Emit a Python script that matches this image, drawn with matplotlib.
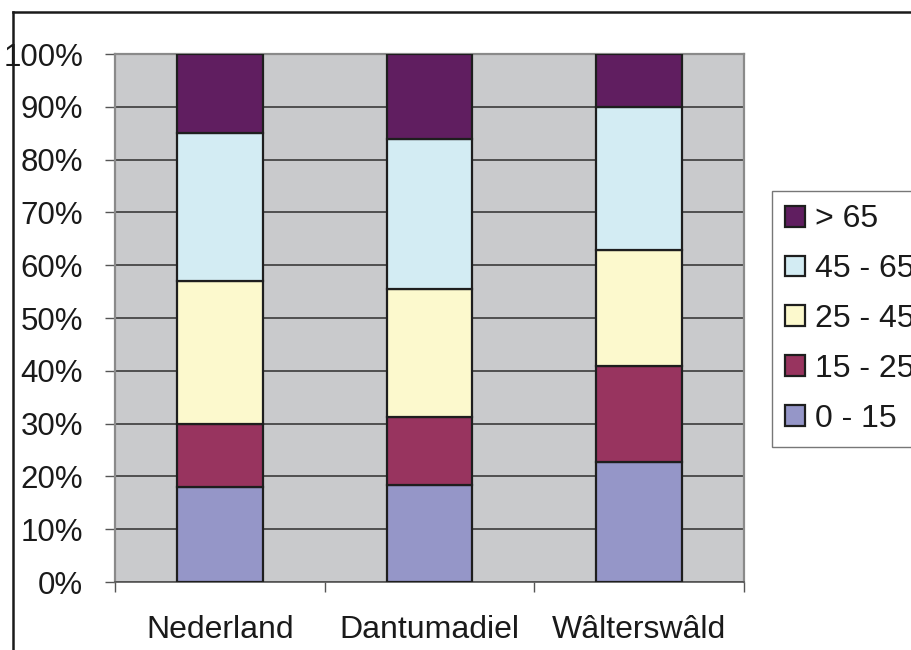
import matplotlib
matplotlib.use("Agg")
import matplotlib.pyplot as plt
from matplotlib.lines import Line2D
import numpy as np

plt.rcParams['font.family'] = ['Liberation Sans', 'DejaVu Sans']

# Age distribution (share of population, %) per area
regions = ["Nederland", "Dantumadiel", "Wâlterswâld"]
age_groups = ["0 - 15", "15 - 25", "25 - 45", "45 - 65", "> 65"]
age_0_15 = [18.0, 18.4, 22.8]
age_15_25 = [12.0, 12.8, 18.1]
age_25_45 = [27.0, 24.3, 21.9]
age_45_65 = [28.0, 28.4, 27.1]
age_65_plus = [15.0, 16.1, 10.1]
series = [age_0_15, age_15_25, age_25_45, age_45_65, age_65_plus]
colors = ["#9596C8", "#98345F", "#FCF9CD", "#D3ECF3", "#601E60"]
y_ticks = [0, 10, 20, 30, 40, 50, 60, 70, 80, 90, 100]
y_labels = [f"{t}%" for t in y_ticks]

W, H = 911, 650
fig = plt.figure(figsize=(W / 100, H / 100), dpi=100)
ax = fig.add_axes([115 / W, 1 - 582 / H, (744 - 115) / W, (582 - 54) / H])
ax.set_facecolor("#C9CACC")

x = np.arange(len(regions))
bottom = np.zeros(len(regions))
handles = []
for vals, col, name in zip(series, colors, age_groups):
    v = np.array(vals)
    h = ax.bar(x, v, bottom=bottom, width=0.41, color=col, edgecolor="#1E1E1E",
               linewidth=1.6, label=name, zorder=3)
    handles.append(h)
    bottom += v

ax.set_xlim(-0.5, 2.5)
ax.set_ylim(0, 100)

ax.set_yticks(y_ticks)
ax.set_yticklabels(y_labels)
ax.yaxis.grid(True, color="#2E2E2E", linewidth=1.1, zorder=1)
ax.set_axisbelow(True)
ax.tick_params(axis="y", length=7, width=1.0, color="#555555", pad=16,
               labelsize=22.5, labelcolor="#1A1A1A")

# category boundaries carry the tick marks, centres carry the names
ax.set_xticks([-0.5, 0.5, 1.5, 2.5])
ax.set_xticklabels([])
ax.set_xticks(x, minor=True)
ax.set_xticklabels(regions, minor=True)
ax.tick_params(axis="x", which="major", length=7, width=1.0, color="#555555")
ax.tick_params(axis="x", which="minor", length=0, pad=24, labelsize=23,
               labelcolor="#1A1A1A")

for side in ["top", "right", "left"]:
    ax.spines[side].set_color("#8A8A8A")
    ax.spines[side].set_linewidth(1.6)
ax.spines["bottom"].set_color("#555555")
ax.spines["bottom"].set_linewidth(1.2)

leg = fig.legend(handles[::-1], age_groups[::-1], loc="upper left",
                 bbox_to_anchor=(772 / W, 1 - 191 / H), fontsize=23,
                 frameon=True, fancybox=False, edgecolor="#555555",
                 handlelength=0.62, handleheight=0.62, handletextpad=0.32,
                 labelspacing=0.62, borderpad=0.42, borderaxespad=0,
                 labelcolor="#1A1A1A")
leg.get_frame().set_linewidth(1.0)
leg.get_frame().set_facecolor("white")

# outer chart border (top and left edges)
fig.add_artist(Line2D([13 / W, 1], [1 - 11.5 / H, 1 - 11.5 / H],
                      color="#1A1A1A", linewidth=1.8, transform=fig.transFigure))
fig.add_artist(Line2D([13 / W, 13 / W], [0, 1 - 11.5 / H],
                      color="#1A1A1A", linewidth=1.8, transform=fig.transFigure))

fig.savefig("out.png", dpi=100)
